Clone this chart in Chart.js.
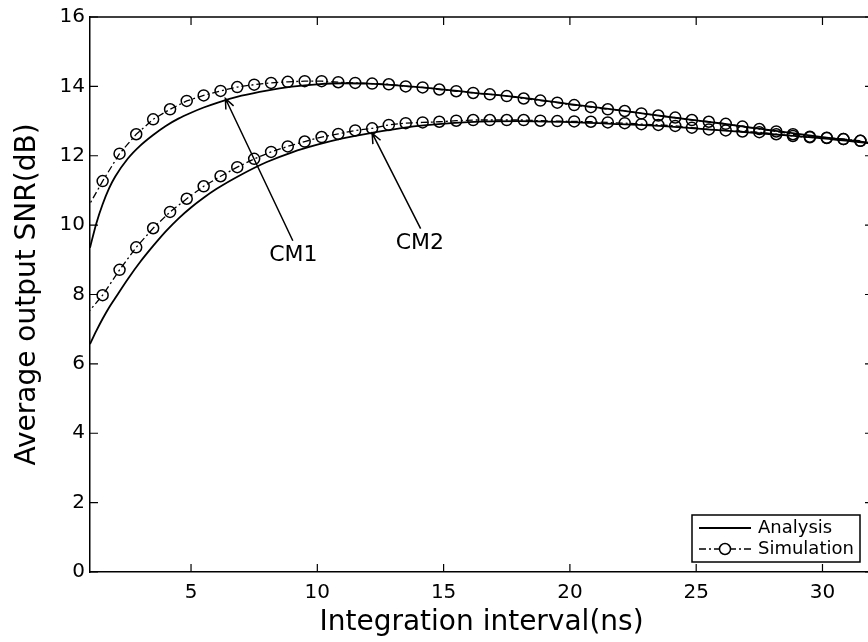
<!DOCTYPE html>
<html>
<head>
<meta charset="utf-8">
<script src="https://cdn.jsdelivr.net/npm/chart.js@4.4.1/dist/chart.umd.min.js"></script>
<style>
  html, body { margin: 0; padding: 0; background: #fff; overflow: hidden; }
  #wrap { width: 880px; height: 642px; }
</style>
</head>
<body>
<div id="wrap"><canvas id="snrChart" width="880" height="642"></canvas></div>
<script>
// Simulation markers (integration interval, ns)
const simX = [0.83, 1.5, 2.17, 2.83, 3.5, 4.17, 4.83, 5.5, 6.17, 6.83,
  7.5, 8.17, 8.83, 9.5, 10.17, 10.83, 11.5, 12.17, 12.83, 13.5,
  14.17, 14.83, 15.5, 16.17, 16.83, 17.5, 18.17, 18.83, 19.5, 20.17,
  20.83, 21.5, 22.17, 22.83, 23.5, 24.17, 24.83, 25.5, 26.17, 26.83,
  27.5, 28.17, 28.83, 29.5, 30.17, 30.83, 31.5];
const simCM1 = [10.4, 11.27, 12.06, 12.62, 13.05, 13.34, 13.58, 13.74, 13.87, 13.98,
  14.05, 14.10, 14.13, 14.15, 14.15, 14.12, 14.10, 14.08, 14.06, 14.00,
  13.97, 13.91, 13.86, 13.81, 13.77, 13.72, 13.65, 13.59, 13.53, 13.46,
  13.40, 13.34, 13.29, 13.22, 13.16, 13.10, 13.03, 12.98, 12.92, 12.84,
  12.77, 12.70, 12.62, 12.55, 12.52, 12.48, 12.43];
const simCM2 = [7.4, 7.98, 8.71, 9.36, 9.91, 10.38, 10.76, 11.12, 11.41, 11.67,
  11.91, 12.11, 12.27, 12.41, 12.54, 12.63, 12.73, 12.79, 12.89, 12.94,
  12.96, 12.98, 13.01, 13.03, 13.03, 13.03, 13.03, 13.01, 13.00, 12.99,
  12.98, 12.96, 12.94, 12.91, 12.89, 12.86, 12.81, 12.76, 12.73, 12.70,
  12.68, 12.62, 12.57, 12.53, 12.51, 12.48, 12.43];

// Analysis curves
const anaX = [1, 1.25, 1.5, 1.75, 2, 2.5, 3, 3.5, 4, 4.5, 5, 5.5, 6, 7, 8, 9, 10, 11, 12,
  14, 16, 18, 20, 22, 24, 26, 28, 30, 32];
const anaCM1 = [9.35, 10.05, 10.6, 11.05, 11.4, 11.92, 12.3, 12.6, 12.86, 13.07, 13.24, 13.39, 13.52,
  13.73, 13.88, 13.99, 14.06, 14.09, 14.08,
  13.98, 13.83, 13.68, 13.49, 13.31, 13.11, 12.93, 12.73, 12.54, 12.36];
const anaCM2 = [6.57, 6.95, 7.3, 7.62, 7.9, 8.45, 8.95, 9.4, 9.82, 10.19, 10.51, 10.79, 11.04,
  11.46, 11.82, 12.1, 12.32, 12.5, 12.64,
  12.86, 12.97, 13.0, 12.97, 12.91, 12.84, 12.73, 12.62, 12.5, 12.35];

const xTicks = [5, 10, 15, 20, 25, 30];
const yTicks = [0, 2, 4, 6, 8, 10, 12, 14, 16];

const FONT = "'DejaVu Sans', 'Liberation Sans', sans-serif";

function pts(xs, ys) {
  return xs.map((x, i) => ({ x: x, y: ys[i] }));
}

// first sim point lies left of the axis, only its line segment is seen
const simRadius = simX.map((x, i) => (i === 0 ? 0 : 5.5));

const simStyle = {
  borderColor: "#000",
  borderWidth: 1.3,
  borderDash: [7, 3, 2, 3],
  pointRadius: simRadius,
  pointStyle: "circle",
  pointBorderColor: "#000",
  pointBorderWidth: 1.5,
  pointBackgroundColor: "rgba(0,0,0,0)",
  tension: 0
};
const anaStyle = {
  borderColor: "#000",
  borderWidth: 1.8,
  pointRadius: 0,
  cubicInterpolationMode: "monotone"
};

// Box, inward ticks
const framePlugin = {
  id: "frame",
  afterDraw(chart) {
    const { ctx, chartArea: a, scales: { x, y } } = chart;
    ctx.save();
    ctx.strokeStyle = "#000";
    ctx.lineWidth = 1.5;
    ctx.beginPath();
    ctx.moveTo(a.left, a.top); ctx.lineTo(a.right, a.top);
    ctx.moveTo(a.right, a.top); ctx.lineTo(a.right, a.bottom);
    ctx.stroke();
    ctx.lineWidth = 1.2;
    ctx.beginPath();
    xTicks.forEach(v => {
      const px = x.getPixelForValue(v);
      ctx.moveTo(px, a.bottom); ctx.lineTo(px, a.bottom - 8);
      ctx.moveTo(px, a.top); ctx.lineTo(px, a.top + 8);
    });
    yTicks.forEach(v => {
      const py = y.getPixelForValue(v);
      ctx.moveTo(a.left, py); ctx.lineTo(a.left + 8, py);
      ctx.moveTo(a.right, py); ctx.lineTo(a.right - 8, py);
    });
    ctx.stroke();
    ctx.restore();
  }
};

// CM1 / CM2 labels with arrows
const labels = [
  { text: "CM1", tx: 9.05, ty: 9.13, fromX: 9.03, fromY: 9.55, toX: 6.36, toY: 13.65 },
  { text: "CM2", tx: 14.06, ty: 9.48, fromX: 14.09, fromY: 9.9, toX: 12.17, toY: 12.65 }
];

const notePlugin = {
  id: "notes",
  afterDraw(chart) {
    const { ctx, scales: { x, y } } = chart;
    ctx.save();
    ctx.strokeStyle = "#000";
    ctx.fillStyle = "#000";
    ctx.lineWidth = 1.5;
    labels.forEach(l => {
      const x0 = x.getPixelForValue(l.fromX), y0 = y.getPixelForValue(l.fromY);
      const x1 = x.getPixelForValue(l.toX), y1 = y.getPixelForValue(l.toY);
      ctx.beginPath();
      ctx.moveTo(x0, y0); ctx.lineTo(x1, y1);
      const ang = Math.atan2(y1 - y0, x1 - x0);
      const len = 11, spread = 0.4;
      ctx.moveTo(x1 - len * Math.cos(ang - spread), y1 - len * Math.sin(ang - spread));
      ctx.lineTo(x1, y1);
      ctx.lineTo(x1 - len * Math.cos(ang + spread), y1 - len * Math.sin(ang + spread));
      ctx.stroke();
      ctx.font = "22px " + FONT;
      ctx.textAlign = "center";
      ctx.textBaseline = "middle";
      ctx.fillText(l.text, x.getPixelForValue(l.tx), y.getPixelForValue(l.ty));
    });
    ctx.restore();
  }
};

// Legend box in the lower right corner
const legendPlugin = {
  id: "boxLegend",
  afterDraw(chart) {
    const ctx = chart.ctx;
    const box = { left: 692, top: 515, right: 860, bottom: 562 };
    const rows = [528, 549];
    const lineL = 699, lineR = 751, textX = 758;
    ctx.save();
    ctx.fillStyle = "#fff";
    ctx.fillRect(box.left, box.top, box.right - box.left, box.bottom - box.top);
    ctx.strokeStyle = "#000";
    ctx.lineWidth = 1.5;
    ctx.strokeRect(box.left, box.top, box.right - box.left, box.bottom - box.top);

    // Analysis sample
    ctx.lineWidth = 1.8;
    ctx.beginPath();
    ctx.moveTo(lineL, rows[0]); ctx.lineTo(lineR, rows[0]);
    ctx.stroke();

    // Simulation sample
    ctx.lineWidth = 1.3;
    ctx.setLineDash([7, 3, 2, 3]);
    ctx.beginPath();
    ctx.moveTo(lineL, rows[1]); ctx.lineTo(lineR, rows[1]);
    ctx.stroke();
    ctx.setLineDash([]);
    ctx.lineWidth = 1.5;
    ctx.fillStyle = "#fff";
    ctx.beginPath();
    ctx.arc((lineL + lineR) / 2, rows[1], 5.5, 0, Math.PI * 2);
    ctx.fill();
    ctx.stroke();

    ctx.fillStyle = "#000";
    ctx.font = "18px " + FONT;
    ctx.textAlign = "left";
    ctx.textBaseline = "middle";
    ctx.fillText("Analysis", textX, rows[0]);
    ctx.fillText("Simulation", textX, rows[1]);
    ctx.restore();
  }
};

const ctx = document.getElementById("snrChart").getContext("2d");
const chart = new Chart(ctx, {
  type: "line",
  data: {
    datasets: [
      Object.assign({ label: "Analysis CM1", data: pts(anaX, anaCM1) }, anaStyle),
      Object.assign({ label: "Analysis CM2", data: pts(anaX, anaCM2) }, anaStyle),
      Object.assign({ label: "Simulation CM1", data: pts(simX, simCM1) }, simStyle),
      Object.assign({ label: "Simulation CM2", data: pts(simX, simCM2) }, simStyle)
    ]
  },
  options: {
    responsive: false,
    animation: false,
    layout: { padding: { top: 13, right: 6, left: 0, bottom: 0 } },
    plugins: {
      legend: { display: false },
      tooltip: { enabled: false }
    },
    scales: {
      x: {
        type: "linear",
        min: 1,
        max: 32,
        afterBuildTicks: s => { s.ticks = xTicks.map(v => ({ value: v })); },
        afterFit: s => { s.height = 70; },
        grid: { display: false, drawTicks: false },
        border: { display: true, color: "#000", width: 1.5 },
        ticks: { color: "#000", font: { family: FONT, size: 20 }, padding: 9, maxRotation: 0, autoSkip: false },
        title: {
          display: true,
          text: "Integration interval(ns)",
          color: "#000",
          font: { family: FONT, size: 28 },
          padding: { top: 0, bottom: 2 }
        }
      },
      y: {
        min: 0,
        max: 16,
        afterBuildTicks: s => { s.ticks = yTicks.map(v => ({ value: v })); },
        afterFit: s => { s.width = 90; },
        grid: { display: false, drawTicks: false },
        border: { display: true, color: "#000", width: 1.5 },
        ticks: { color: "#000", font: { family: FONT, size: 20 }, padding: 5 },
        title: {
          display: true,
          text: "Average output SNR(dB)",
          color: "#000",
          font: { family: FONT, size: 28 },
          padding: { top: 11, bottom: 0 }
        }
      }
    }
  },
  plugins: [framePlugin, notePlugin, legendPlugin]
});
</script>
</body>
</html>
